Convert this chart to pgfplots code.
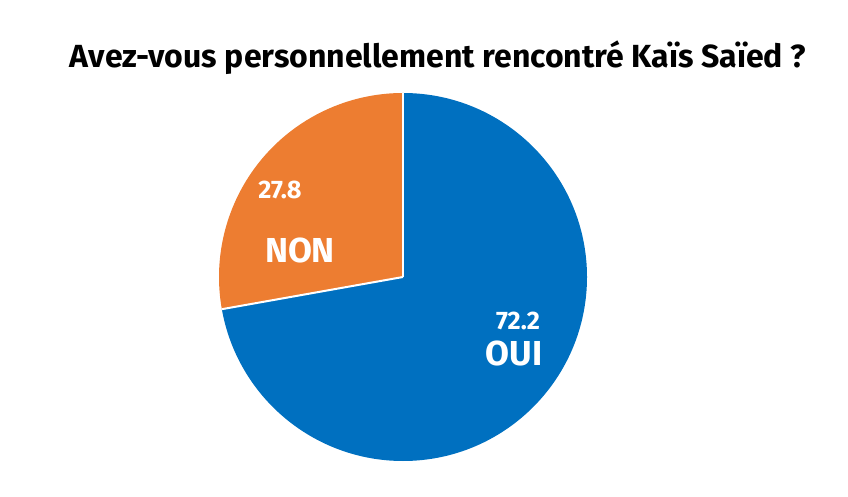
\documentclass[border=0pt]{standalone}
\usepackage{pgfplots}
\pgfplotsset{compat=1.18}
\usepackage{fontspec}
\setmainfont{Fira Sans}

\definecolor{ouiblue}{HTML}{0070C0}
\definecolor{nonorange}{HTML}{ED7D31}

% share of each answer, in percent
\def\oui{72.2}
\def\non{27.8}

\begin{document}
\begin{tikzpicture}
\begin{axis}[
    width=636pt, height=372pt,
    scale only axis,
    xmin=0, xmax=848, ymin=0, ymax=496,
    hide axis,
    clip=false,
]
    \path (axis cs:0,0) rectangle (axis cs:848,496);
    \pgfmathsetmacro{\split}{90-3.6*\oui}
    % OUI slice, clockwise from 12 o'clock
    \fill[ouiblue] (axis cs:403,219) -- ++(90:138pt)
        arc[start angle=90, end angle=\split, radius=138pt] -- cycle;
    % NON slice, the rest
    \fill[nonorange] (axis cs:403,219) -- ++(90:138pt)
        arc[start angle=90, end angle=\split+360, radius=138pt] -- cycle;
    \draw[white, line width=1.5pt] (axis cs:403,219) -- ++(90:138pt);
    \draw[white, line width=1.5pt] (axis cs:403,219) -- ++(\split:138pt);

    \node[font=\bfseries\fontsize{19}{22}\selectfont, white] at (axis cs:518,175) {72.2};
    \node[font=\bfseries\fontsize{26}{30}\selectfont, white] at (axis cs:514,143) {OUI};
    \node[font=\bfseries\fontsize{19}{22}\selectfont, white] at (axis cs:280,306) {27.8};
    \node[font=\bfseries\fontsize{26}{30}\selectfont, white] at (axis cs:300,246) {NON};

    \node[font=\bfseries\fontsize{24}{28}\selectfont] at (axis cs:438,438)
        {Avez-vous personnellement rencontré Kaïs Saïed ?};
\end{axis}
\end{tikzpicture}
\end{document}
